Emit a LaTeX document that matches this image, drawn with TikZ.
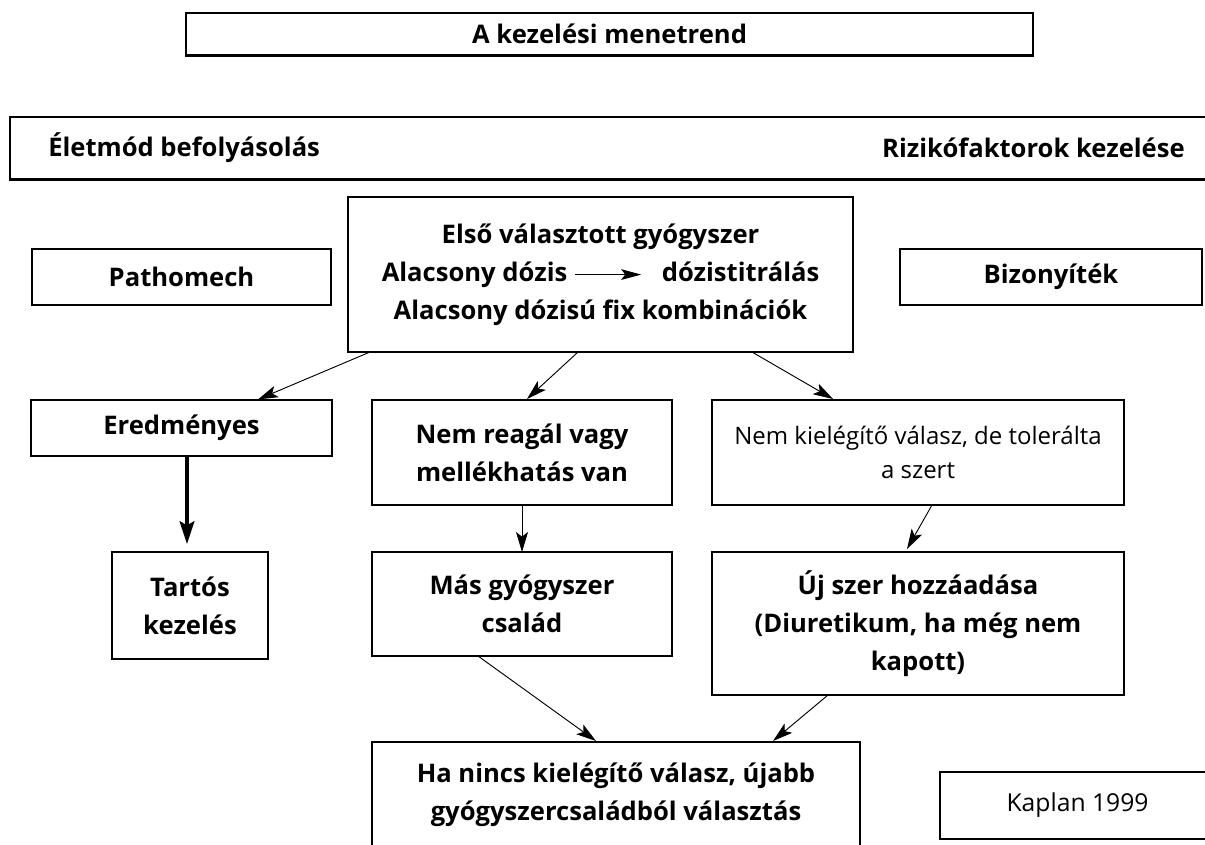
\documentclass[tikz,border=0pt]{standalone}
\usepackage{fontspec}
\setmainfont{Open Sans}
\usetikzlibrary{arrows.meta}
\begin{document}
\begin{tikzpicture}[x=0.75pt,y=-0.75pt,
  box/.style={draw, line width=0.9pt, inner sep=0pt, align=center,
    font=\bfseries\fontsize{19.2}{28.5}\selectfont},
  lightbox/.style={box, font=\fontsize{18}{25}\selectfont},
  bandtext/.style={inner sep=0pt, font=\bfseries\fontsize{19.2}{22}\selectfont},
  arr/.style={-{Stealth[length=15pt,width=9pt,inset=3.5pt]}, line width=0.7pt},
  thickarr/.style={-{Stealth[length=17pt,width=11pt,inset=3pt]}, line width=3pt}]
\useasboundingbox (0,0) rectangle (1205,844);
\clip (0,0) rectangle (1205,844);
\fill[white] (0,0) rectangle (1205,844);

\node[box, minimum width=635.25pt, minimum height=31.5pt] (title) at (609.5,34) {A kezelési menetrend};
\draw[line width=1.8pt] (title.south west) -- (title.south east);

\node[draw, line width=1.2pt, minimum width=903.75pt, minimum height=46.5pt, inner sep=0pt] (band) at (612.5,148) {};
\draw[line width=2.2pt] (band.south west) -- (band.south east);
\node[bandtext, anchor=west] (life) at (48,148) {Életmód befolyásolás};
\node[bandtext, anchor=east] (risk) at (1185,148) {Rizikófaktorok kezelése};

\node[box, minimum width=378.75pt, minimum height=116.25pt] (first) at (600.5,274.5)
  {Első választott gyógyszer\\
   Alacsony dózis\hspace{5pt}\tikz[baseline=-5pt]\draw[-{Stealth[length=15pt,width=8pt,inset=3pt]}, line width=0.9pt] (0,0) -- (50pt,0);\hspace{15pt}dózistitrálás\\
   Alacsony dózisú fix kombinációk};
\node[box, minimum width=224.25pt, minimum height=42pt] (patho) at (181.5,277) {Pathomech};
\node[box, minimum width=226.5pt, minimum height=42pt] (bizony) at (1051,277) {Bizonyíték};

\node[box, minimum width=225.75pt, minimum height=42pt] (ered) at (181.5,428) {Eredményes};
\node[box, minimum width=225pt, minimum height=78.75pt] (nemre) at (522,452.5) {Nem reagál vagy\\mellékhatás van};
\node[lightbox, minimum width=309pt, minimum height=78.75pt] (nemki) at (918,452.5) {Nem kielégítő válasz, de tolerálta\\a szert};

\node[box, minimum width=117pt, minimum height=80.25pt] (tartos) at (190,605.5) {Tartós\\kezelés};
\node[box, minimum width=225pt, minimum height=78pt] (mas) at (522,604) {Más gyógyszer\\család};
\node[box, minimum width=309pt, minimum height=107.25pt] (uj) at (918,623.5) {Új szer hozzáadása\\(Diuretikum, ha még nem\\kapott)};

\node[box, minimum width=366pt, minimum height=79.5pt] (ha) at (616,795) {Ha nincs kielégítő válasz, újabb\\gyógyszercsaládból választás};
\node[lightbox, minimum width=206.25pt, minimum height=50.25pt, font=\fontsize{18.5}{25}\selectfont] (kaplan) at (1077.5,805.5) {Kaplan 1999};

\coordinate (f1) at (370,352);
\coordinate (f2) at (578,352);
\coordinate (f3) at (752,352);
\draw[arr] (f1) -- (ered.north east -| 258,0);
\draw[arr] (f2) -- (527,399);
\draw[arr] (f3) -- (833,399);
\draw[thickarr] (ered.south -| 187,0) -- (187,544);
\draw[arr] (nemre.south) -- (522,552);
\draw[arr] (932,505) -- (907,549);
\draw[arr] (478,656) -- (596,741);
\draw[arr] (828,695) -- (773,741);
\end{tikzpicture}
\end{document}
